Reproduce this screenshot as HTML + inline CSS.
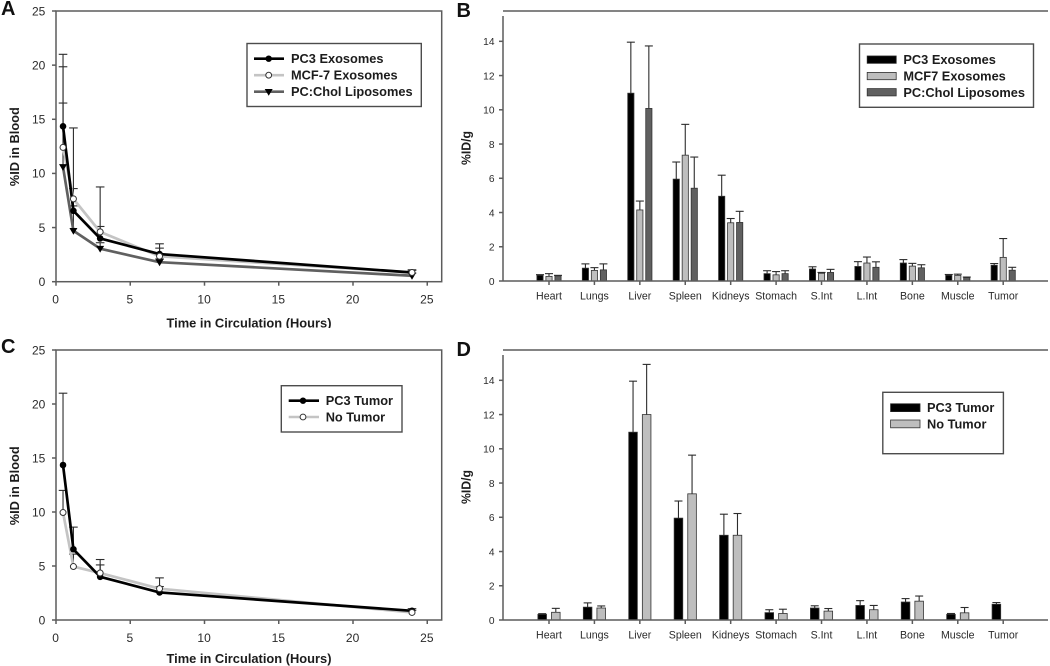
<!DOCTYPE html>
<html lang="en">
<head>
<meta charset="utf-8">
<title>Biodistribution charts</title>
<style>
html,body{margin:0;padding:0;background:#fff;}
svg{display:block;}
text{font-family:"Liberation Sans",Arial,sans-serif;fill:#1c1c1c;}
.tick{font-size:12px;fill:#2a2a2a;}
.btick{font-size:10.2px;fill:#2a2a2a;}
.cat{font-size:10.6px;fill:#2a2a2a;}
.title{font-size:12.8px;font-weight:bold;fill:#1c1c1c;}
.leg{font-size:12.8px;font-weight:bold;fill:#1c1c1c;}
.letter{font-size:20px;font-weight:bold;fill:#111;}
.axis{stroke:#5c5c5c;stroke-width:1.5;fill:none;}
.legbox{stroke:#4c4c4c;stroke-width:1.4;fill:#fff;}
</style>
</head>
<body>
<svg xmlns="http://www.w3.org/2000/svg" width="1050" height="666" viewBox="0 0 1050 666" style="filter:blur(0.35px)">
  <rect x="0" y="0" width="1050" height="666" fill="#fff"/>

  <g id="panel-a"></g>
  <g id="panel-b"></g>
  <g id="panel-c"></g>
  <g id="panel-d"></g>

  <text class="letter" x="1" y="15">A</text>
  <text class="letter" x="456.5" y="17">B</text>
  <text class="letter" x="1" y="353">C</text>
  <text class="letter" x="456.5" y="356">D</text>

  <text class="title" x="249" y="327.5" text-anchor="middle" textLength="165" lengthAdjust="spacingAndGlyphs">Time in Circulation (Hours)</text>
  <rect x="150" y="328" width="200" height="7" fill="#fff"/>
  <text class="title" x="249" y="663" text-anchor="middle" textLength="165" lengthAdjust="spacingAndGlyphs">Time in Circulation (Hours)</text>
  <text class="title" transform="translate(19,146.7) rotate(-90)" text-anchor="middle" textLength="79" lengthAdjust="spacingAndGlyphs">%ID in Blood</text>
  <text class="title" transform="translate(19,485.8) rotate(-90)" text-anchor="middle" textLength="79" lengthAdjust="spacingAndGlyphs">%ID in Blood</text>
  <text class="title" transform="translate(470.5,148) rotate(-90)" text-anchor="middle" textLength="34" lengthAdjust="spacingAndGlyphs">%ID/g</text>
  <text class="title" transform="translate(470.5,487) rotate(-90)" text-anchor="middle" textLength="34" lengthAdjust="spacingAndGlyphs">%ID/g</text>

  <g>
    <rect class="legbox" x="247" y="43.5" width="174.3" height="63"/>
    <line x1="254" y1="58.7" x2="284" y2="58.7" stroke="#000" stroke-width="2.6"/>
    <circle cx="268.7" cy="58.7" r="3.2" fill="#000"/>
    <text class="leg" x="291" y="63.2">PC3 Exosomes</text>
    <line x1="254" y1="75.2" x2="284" y2="75.2" stroke="#c4c4c4" stroke-width="2.6"/>
    <circle cx="268.7" cy="75.2" r="2.9" fill="#fff" stroke="#333" stroke-width="1"/>
    <text class="leg" x="291" y="79.7">MCF-7 Exosomes</text>
    <line x1="254" y1="91.7" x2="284" y2="91.7" stroke="#606060" stroke-width="2.6"/>
    <path d="M264.7 89 H272.7 L268.7 95.8 Z" fill="#000"/>
    <text class="leg" x="291" y="96.2">PC:Chol Liposomes</text>
  </g>

  <g>
    <rect class="legbox" x="859.5" y="44" width="174" height="63.3"/>
    <rect x="867.2" y="56" width="29" height="7.3" fill="#000" stroke="#222" stroke-width="0.8"/>
    <text class="leg" x="903.4" y="64.2">PC3 Exosomes</text>
    <rect x="867.2" y="72.4" width="29" height="7.3" fill="#bebebe" stroke="#333" stroke-width="0.8"/>
    <text class="leg" x="903.4" y="80.5">MCF7 Exosomes</text>
    <rect x="867.2" y="88.6" width="29" height="7.3" fill="#606060" stroke="#333" stroke-width="0.8"/>
    <text class="leg" x="903.4" y="96.8">PC:Chol Liposomes</text>
  </g>

  <g>
    <rect class="legbox" x="281.3" y="385.7" width="120.7" height="46.3"/>
    <line x1="288.7" y1="400.7" x2="319" y2="400.7" stroke="#000" stroke-width="2.6"/>
    <circle cx="303" cy="400.7" r="3.2" fill="#000"/>
    <text class="leg" x="325.7" y="405.2">PC3 Tumor</text>
    <line x1="288.7" y1="417" x2="319" y2="417" stroke="#c4c4c4" stroke-width="2.6"/>
    <circle cx="303" cy="417" r="2.9" fill="#fff" stroke="#333" stroke-width="1"/>
    <text class="leg" x="325.7" y="421.7">No Tumor</text>
  </g>

  <g>
    <rect class="legbox" x="882.8" y="392.3" width="120.6" height="61.4"/>
    <rect x="890.6" y="403.8" width="29.4" height="7.8" fill="#000" stroke="#222" stroke-width="0.8"/>
    <text class="leg" x="927" y="412.2">PC3 Tumor</text>
    <rect x="890.6" y="420" width="29.4" height="7.8" fill="#bebebe" stroke="#333" stroke-width="0.8"/>
    <text class="leg" x="927" y="428.5">No Tumor</text>
  </g>

<script>
// ---- Line chart data ----
const hours = [0.5, 1.2, 3, 7, 24];
const lineXTicks = [0, 5, 10, 15, 20, 25];
const lineYTicks = [0, 5, 10, 15, 20, 25];

const pc3Blood = [14.35, 6.55, 4.0, 2.55, 0.85];
const pc3BloodUpper = [21.0, 8.6, 5.1, 3.1, 1.05];
const mcf7Blood = [12.4, 7.65, 4.6, 2.35, 0.85];
const mcf7BloodUpper = [19.85, 14.2, 8.75, 3.5, 1.1];
const liposomeBlood = [10.6, 4.7, 3.05, 1.8, 0.55];
const liposomeBloodUpper = [16.5, 7.0, 3.6, 2.1, 0.8];
const noTumorBlood = [9.95, 4.95, 4.35, 2.9, 0.7];
const noTumorBloodUpper = [12.0, 6.1, 5.6, 3.9, 0.9];

// ---- Bar chart data ----
const organs = ['Heart', 'Lungs', 'Liver', 'Spleen', 'Kidneys', 'Stomach', 'S.Int', 'L.Int', 'Bone', 'Muscle', 'Tumor'];
const barYTicks = [0, 2, 4, 6, 8, 10, 12, 14];

const pc3Organ = [0.33, 0.75, 10.97, 5.95, 4.95, 0.43, 0.70, 0.85, 1.05, 0.33, 0.92];
const pc3OrganUpper = [0.37, 1.0, 13.95, 6.95, 6.18, 0.60, 0.83, 1.13, 1.25, 0.38, 1.02];
const mcf7Organ = [0.27, 0.62, 4.15, 7.35, 3.40, 0.36, 0.45, 1.05, 0.87, 0.33, 1.38];
const mcf7OrganUpper = [0.43, 0.78, 4.67, 9.15, 3.65, 0.55, 0.50, 1.40, 1.03, 0.40, 2.48];
const liposomeOrgan = [0.30, 0.65, 10.08, 5.42, 3.42, 0.43, 0.50, 0.80, 0.77, 0.20, 0.63];
const liposomeOrganUpper = [0.33, 1.0, 13.73, 7.24, 4.07, 0.60, 0.68, 1.12, 0.95, 0.23, 0.80];
const noTumorOrgan = [0.45, 0.70, 12.0, 7.37, 4.95, 0.38, 0.52, 0.60, 1.10, 0.42, 0];
const noTumorOrganUpper = [0.68, 0.82, 14.93, 9.63, 6.22, 0.63, 0.67, 0.85, 1.40, 0.73, 0];

const SVGNS = 'http://www.w3.org/2000/svg';

function mk(tag, parent, attrs) {
  const node = document.createElementNS(SVGNS, tag);
  for (const k in attrs) node.setAttribute(k, attrs[k]);
  parent.appendChild(node);
  return node;
}

function drawLinePanel(id, top, bottom, series) {
  const g = document.getElementById(id);
  const x0 = 55.6, xs = 14.85, left = 56, right = 441.7;
  const X = v => x0 + v * xs;
  const Y = v => bottom - v * (bottom - top) / 25;

  const frame = mk('rect', g, {x: left, y: top, width: right - left, height: bottom - top, class: 'axis'});
  
  

  lineYTicks.forEach(t => {
    const tk = mk('line', g, {x1: left - 4, x2: left, y1: Y(t), y2: Y(t), class: 'axis'});
    
    
    const lb = mk('text', g, {x: 45.3, y: Y(t) + 4.3, class: 'tick', 'text-anchor': 'end'});
    
    
    lb.textContent = t;
  });
  lineXTicks.forEach(t => {
    const tk = mk('line', g, {x1: X(t) + 0.4, x2: X(t) + 0.4, y1: bottom, y2: bottom + 4, class: 'axis'});
    
    
    const lb = mk('text', g, {x: X(t), y: bottom + 22, class: 'tick', 'text-anchor': 'middle'});
    
    
    lb.textContent = t;
  });

  series.forEach(s => {
    hours.forEach((h, i) => {
      const bar = mk('line', g, {x1: X(h), x2: X(h), y1: Y(s.values[i]), y2: Y(s.upper[i]), stroke: '#2c2c2c', 'stroke-width': 1.1});
      
      
      const cap = mk('line', g, {x1: X(h) - 4.3, x2: X(h) + 4.3, y1: Y(s.upper[i]), y2: Y(s.upper[i]), stroke: '#2c2c2c', 'stroke-width': 1.1});
      
      
    });
  });
  series.slice().sort((a, b) => a.order - b.order).forEach(s => {
    const pts = hours.map((h, i) => X(h) + ',' + Y(s.values[i])).join(' ');
    const pl = mk('polyline', g, {points: pts, fill: 'none', stroke: s.color, 'stroke-width': 2.7, 'stroke-linejoin': 'round'});
    
    
  });
  series.forEach(s => {
    hours.forEach((h, i) => {
      const cx = X(h), cy = Y(s.values[i]);
      let mark;
      if (s.marker === 'dot') {
        mark = mk('circle', g, {cx: cx, cy: cy, r: 3.3, fill: '#000'});
      } else if (s.marker === 'open') {
        mark = mk('circle', g, {cx: cx, cy: cy, r: 3, fill: '#fff', stroke: '#333', 'stroke-width': 1});
      } else {
        mark = mk('path', g, {d: 'M' + (cx - 4) + ' ' + (cy - 2.8) + ' h8 l-4 6.8 z', fill: '#000'});
      }
      
      
    });
  });
}

function drawBarPanel(id, top, bottom, barWidth, pitch, series) {
  const g = document.getElementById(id);
  const left = 503, right = 1048, unit = 17.12;
  const Y = v => bottom - v * unit;
  const cx = i => 549 + i * 45.42;

  const topLine = mk('line', g, {x1: left, x2: right, y1: top, y2: top, class: 'axis'});
  
  
  const yAxis = mk('line', g, {x1: left, x2: left, y1: top + 5, y2: bottom, class: 'axis'});
  
  

  barYTicks.forEach(t => {
    const tk = mk('line', g, {x1: left - 4, x2: left, y1: Y(t), y2: Y(t), class: 'axis'});
    
    
    const lb = mk('text', g, {x: 494.5, y: Y(t) + 3.8, class: 'btick', 'text-anchor': 'end'});
    
    
    lb.textContent = t;
  });

  const n = series.length;
  organs.forEach((name, i) => {
    const tk = mk('line', g, {x1: cx(i), x2: cx(i), y1: bottom, y2: bottom + 4, class: 'axis'});
    
    
    const lb = mk('text', g, {x: cx(i), y: bottom + 18.5, class: 'cat', 'text-anchor': 'middle'});
    
    
    lb.textContent = name;

    series.forEach((s, j) => {
      const v = s.values[i];
      if (!v) return;
      const c = cx(i) + (j - (n - 1) / 2) * pitch;
      const bar = mk('line', g, {x1: c, x2: c, y1: Y(v), y2: Y(s.upper[i]), stroke: '#2c2c2c', 'stroke-width': 1.1});
      
      
      const cap = mk('line', g, {x1: c - 4, x2: c + 4, y1: Y(s.upper[i]), y2: Y(s.upper[i]), stroke: '#2c2c2c', 'stroke-width': 1.1});
      
      
      const rect = mk('rect', g, {x: c - barWidth / 2, y: Y(v), width: barWidth, height: v * unit, fill: s.color, stroke: '#333', 'stroke-width': 0.8});
      
      
    });
  });

  const xAxis = mk('line', g, {x1: left, x2: right, y1: bottom, y2: bottom, class: 'axis'});
  
  
}

drawLinePanel('panel-a', 11, 281.7, [
  {values: pc3Blood, upper: pc3BloodUpper, color: '#000', marker: 'dot', order: 3},
  {values: liposomeBlood, upper: liposomeBloodUpper, color: '#606060', marker: 'tri', order: 1},
  {values: mcf7Blood, upper: mcf7BloodUpper, color: '#c4c4c4', marker: 'open', order: 2}
]);
drawLinePanel('panel-c', 350, 620, [
  {values: pc3Blood, upper: pc3BloodUpper, color: '#000', marker: 'dot', order: 2},
  {values: noTumorBlood, upper: noTumorBloodUpper, color: '#c4c4c4', marker: 'open', order: 1}
]);
drawBarPanel('panel-b', 11, 281, 6.2, 9, [
  {values: pc3Organ, upper: pc3OrganUpper, color: '#000'},
  {values: mcf7Organ, upper: mcf7OrganUpper, color: '#bebebe'},
  {values: liposomeOrgan, upper: liposomeOrganUpper, color: '#606060'}
]);
drawBarPanel('panel-d', 350, 620, 8.6, 13.6, [
  {values: pc3Organ, upper: pc3OrganUpper, color: '#000'},
  {values: noTumorOrgan, upper: noTumorOrganUpper, color: '#bebebe'}
]);
</script>
</svg>
</body>
</html>
